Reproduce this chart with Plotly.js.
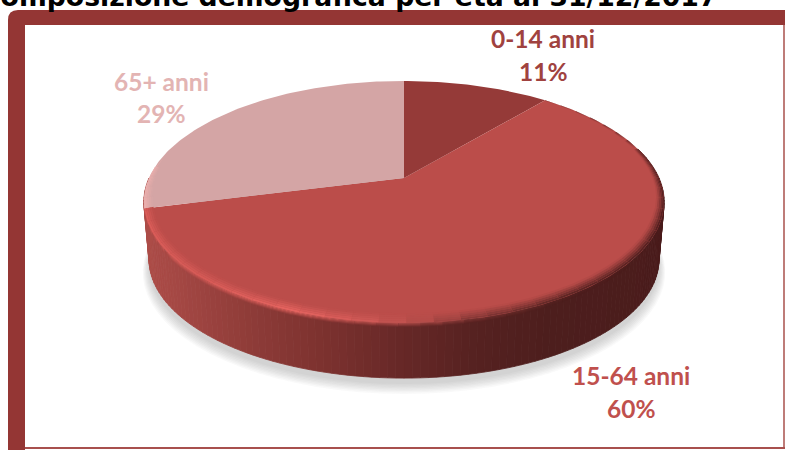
<!DOCTYPE html>
<html>
<head>
<meta charset="utf-8">
<script src="https://cdn.plot.ly/plotly-3.0.1.min.js"></script>
<style>html,body{margin:0;padding:0;background:#fff;overflow:hidden}#chart{width:785px;height:450px}</style>
</head>
<body>
<div id="chart"></div>
<script>
// Age composition of the resident population on 31/12/2017
const titleText = 'Composizione demografica per età al 31/12/2017';
const categories = ['0-14 anni', '15-64 anni', '65+ anni'];
const shares = [11, 60, 29];
const sliceColors = ['#953A38', '#BB4D4A', '#D4A5A5'];
const labelColors = ['#A0423F', '#C0504D', '#E3B4B3'];

// Projection of the tilted disc onto the page
const APEX_X = 404, APEX_Y = 178, RX = 255, RY = 116.3, TILT = 0.198, DEPTH = 58, BASE = 0.98;

function project(deg, du, dv, lift, scale) {
  const a = deg * Math.PI / 180;
  const u = Math.sin(a) * (1 - du), v = Math.cos(a) * (1 - dv);
  const w = 1 + TILT * v;
  return [APEX_X + scale * RX * u / w, APEX_Y + lift - scale * RY * v / w];
}
const topEdge = (deg, d) => project(deg, 0.6 * (d || 0), d || 0, 0, 1);
const baseEdge = deg => project(deg, 0, 0, DEPTH, BASE);

function hex(c) { return [1, 3, 5].map(i => parseInt(c.substr(i, 2), 16)); }
function mix(c1, c2, t) {
  const a = hex(c1), b = hex(c2);
  return '#' + a.map((v, i) => Math.round(v + (b[i] - v) * t).toString(16).padStart(2, '0')).join('');
}
function ramp(stops, x) {
  if (x <= stops[0][0]) return stops[0][1];
  for (let i = 1; i < stops.length; i++) {
    if (x <= stops[i][0]) {
      const t = (x - stops[i - 1][0]) / (stops[i][0] - stops[i - 1][0]);
      return mix(stops[i - 1][1], stops[i][1], t);
    }
  }
  return stops[stops.length - 1][1];
}

const wallStops = [[148, '#AC4C48'], [250, '#8E3B38'], [330, '#7A302E'], [400, '#672827'],
                   [480, '#552120'], [550, '#4D1E1D'], [665, '#4A1C1C']];
const rimStops = [[145, '#DE5F5B'], [200, '#D95C58'], [290, '#EA6662'], [360, '#D45B58'],
                  [420, '#B34C49'], [480, '#7E3533'], [560, '#562322'], [665, '#4A1C1C']];

const traces = [];
function polygon(points, color, outline) {
  traces.push({
    type: 'scatter', mode: 'lines', hoverinfo: 'skip', showlegend: false,
    x: points.map(p => p[0]), y: points.map(p => p[1]),
    fill: 'toself', fillcolor: color,
    line: { color: outline || color, width: outline ? 0.8 : 0 }
  });
}

// Slice boundaries, clockwise from twelve o'clock
const total = shares.reduce((s, v) => s + v, 0);
const bounds = [0];
shares.forEach(v => bounds.push(bounds[bounds.length - 1] + v / total * 360));

// Soft ground shadow beneath the disc
for (let i = 0; i < 8; i++) {
  const grow = 1 + (7 - i) * 0.0035;
  const pts = [];
  for (let d = 0; d <= 360; d += 4) pts.push(project(d, 0, 0, DEPTH + 6 + (7 - i) * 0.9, BASE * grow));
  pts[0] = pts[pts.length - 1];
  polygon(pts, 'rgba(110,120,120,0.045)');
}

// Side wall of the disc, shaded left to right
for (let d = 75; d < bounds[2] + 14; d += 1.5) {
  const a = topEdge(d), b = topEdge(d + 1.5), c = baseEdge(d + 1.5), e = baseEdge(d);
  const col = ramp(wallStops, (a[0] + b[0]) / 2);
  polygon([a, b, c, e, a], col, col);
}

// Rounded lip where the front wall meets the top face
const LIP = 4;
for (let k = LIP - 1; k >= 0; k--) {
  for (let d = 85; d < bounds[2]; d += 4) {
    const a = project(d, 0, 0, k, 1), b = project(d + 4, 0, 0, k, 1);
    const c = project(d + 4, 0, 0, k + 1, 1), e = project(d, 0, 0, k + 1, 1);
    const x = (a[0] + b[0]) / 2;
    polygon([a, b, c, e, a], mix(ramp(rimStops, x), ramp(wallStops, x), (k + 1) / (LIP + 0.5)));
  }
}

// Top faces of the slices
shares.forEach((v, i) => {
  const pts = [[APEX_X, APEX_Y]];
  for (let d = bounds[i]; d < bounds[i + 1]; d += 1) pts.push(topEdge(d));
  pts.push(topEdge(bounds[i + 1]), [APEX_X, APEX_Y]);
  polygon(pts, sliceColors[i]);
});

// Rounded bevel along the front rim of the large slice
const RINGS = 5, BEVEL = 0.055;
function bevelReach(d) {
  if (d < 110) return 0.12 + 0.88 * (d - bounds[1]) / (110 - bounds[1]);
  return 1;
}
for (let r = RINGS - 1; r >= 0; r--) {
  const t0 = r / RINGS, t1 = (r + 1) / RINGS;
  const weight = Math.pow(1 - (t0 + t1) / 2, 1.1);
  const step = 5;
  for (let d = bounds[1]; d < bounds[2]; d += step) {
    const n = Math.min(d + step, bounds[2]);
    const a = topEdge(d, t0 * BEVEL * bevelReach(d)), b = topEdge(n, t0 * BEVEL * bevelReach(n));
    const c = topEdge(n, t1 * BEVEL * bevelReach(n)), e = topEdge(d, t1 * BEVEL * bevelReach(d));
    const x = (a[0] + b[0]) / 2;
    polygon([a, b, c, e, a], mix(sliceColors[1], ramp(rimStops, x), weight));
  }
  // Pale edge on the small upper-left slice
  for (let d = bounds[2]; d < bounds[2] + 45; d += step) {
    const fade = 1 - (d - bounds[2]) / 45;
    const a = topEdge(d, t0 * BEVEL * fade), b = topEdge(d + step, t0 * BEVEL * fade);
    const c = topEdge(d + step, t1 * BEVEL * fade), e = topEdge(d, t1 * BEVEL * fade);
    polygon([a, b, c, e, a], mix(sliceColors[2], '#EEB0AE', weight));
  }
}

// Slice labels, name above percentage
const labelPlaces = [[543, 38, 71], [631, 375, 408], [161, 81, 113]];
const annotations = [];
categories.forEach((name, i) => {
  const [x, y1, y2] = labelPlaces[i];
  [[name, y1], [shares[i] + '%', y2]].forEach(([text, y]) => annotations.push({
    x, y, xref: 'x', yref: 'y', text, showarrow: false, xanchor: 'center', yanchor: 'middle',
    font: { family: 'Lato, sans-serif', size: 24.5, color: labelColors[i], weight: 700 }
  }));
});
annotations.push({
  x: 719, y: 8, xref: 'x', yref: 'y', text: '<b>' + titleText + '</b>', showarrow: false,
  xanchor: 'right', yanchor: 'bottom', yshift: -6,
  font: { family: 'DejaVu Sans, sans-serif', size: 26.7, color: '#000' }
});

// Heavy dark-red frame open towards the right and bottom
const frame = 'M 8 450 L 8 20 Q 8 10 18 10 L 785 10 L 785 25 L 25 25 L 25 450 Z';
const shapes = [
  { type: 'path', path: frame, fillcolor: '#943634', line: { width: 0 }, xref: 'x', yref: 'y' },
  { type: 'line', x0: 784, x1: 784, y0: 25, y1: 448, line: { color: '#A8504D', width: 1.5 }, xref: 'x', yref: 'y' },
  { type: 'line', x0: 25, x1: 785, y0: 448, y1: 448, line: { color: '#A8504D', width: 2 }, xref: 'x', yref: 'y' }
];

const axis = { visible: false, fixedrange: true, showgrid: false, zeroline: false };
Plotly.newPlot('chart', traces, {
  width: 785, height: 450,
  margin: { l: 0, r: 0, t: 0, b: 0 },
  paper_bgcolor: '#fff', plot_bgcolor: '#fff',
  showlegend: false, hovermode: false,
  xaxis: Object.assign({ range: [0, 785] }, axis),
  yaxis: Object.assign({ range: [450, 0] }, axis),
  shapes, annotations
}, { displayModeBar: false, staticPlot: true });
</script>
</body>
</html>
